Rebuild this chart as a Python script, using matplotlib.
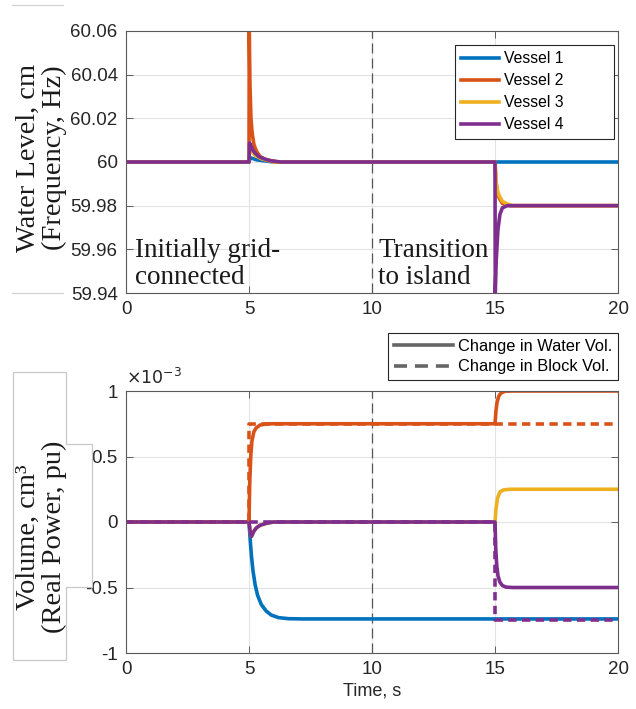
import matplotlib
matplotlib.use('Agg')
import matplotlib.pyplot as plt
from matplotlib.lines import Line2D
from matplotlib.patches import Polygon

plt.rcParams['axes.unicode_minus'] = False
SANS = 'Liberation Sans'
SERIF = 'Liberation Serif'

# ---------------- data ----------------
vessel_names = ['Vessel 1', 'Vessel 2', 'Vessel 3', 'Vessel 4']
x_ticks = [0, 5, 10, 15, 20]
freq_ticks = [59.94, 59.96, 59.98, 60.0, 60.02, 60.04, 60.06]
vol_ticks = [-1, -0.5, 0, 0.5, 1]

# frequency (water level) traces
f1_t = [0, 5, 5.05, 5.3, 6.0, 20]
f1_v = [60, 60, 60.002, 60.001, 60.0, 60.0]

f2_t = [0, 5, 5.01, 5.04, 5.08, 5.13, 5.2, 5.3, 5.45, 5.7, 6.2,
        15, 15.03, 15.08, 15.15, 15.3, 15.6, 20]
f2_v = [60, 60, 60.06, 60.035, 60.02, 60.013, 60.008, 60.005, 60.0025, 60.001, 60.0,
        60.0, 59.993, 59.987, 59.984, 59.981, 59.98, 59.98]

f3_t = [0, 5, 5.02, 5.1, 5.25, 5.5, 6.0, 15, 15.05, 15.12, 15.2, 15.3, 15.45, 15.7, 20]
f3_v = [60, 60, 60.007, 60.005, 60.003, 60.0015, 60.0, 60.0, 59.99, 59.986, 59.984,
        59.982, 59.981, 59.98, 59.98]

f4_t = [0, 5, 5.02, 5.08, 5.15, 5.25, 5.4, 5.6, 5.9, 6.3,
        15, 15.01, 15.05, 15.12, 15.2, 15.3, 15.5, 20]
f4_v = [60, 60, 60.0087, 60.0075, 60.0055, 60.004, 60.0025, 60.0015, 60.0005, 60.0,
        60.0, 59.94, 59.955, 59.969, 59.976, 59.979, 59.98, 59.98]

# volume traces (x 1e-3)
w1_t = [0, 5, 5.05, 5.1, 5.16, 5.25, 5.35, 5.5, 5.7, 5.9, 6.2, 6.6, 7.2, 20]
w1_v = [0, 0, -0.14, -0.26, -0.37, -0.48, -0.56, -0.63, -0.68, -0.71, -0.73, -0.738, -0.74, -0.74]

w2_t = [0, 5, 5.03, 5.07, 5.12, 5.2, 5.3, 5.45, 5.7, 6.0,
        15, 15.04, 15.08, 15.15, 15.25, 15.4, 15.7, 20]
w2_v = [0, 0, 0.3, 0.5, 0.62, 0.69, 0.72, 0.74, 0.748, 0.75,
        0.75, 0.85, 0.91, 0.96, 0.985, 0.998, 1.0, 1.0]

w3_t = [0, 5, 5.05, 5.1, 5.2, 5.3, 5.45, 5.7, 6.0,
        15, 15.04, 15.1, 15.2, 15.35, 15.6, 20]
w3_v = [0, 0, -0.08, -0.11, -0.07, -0.045, -0.025, -0.01, 0.0,
        0, 0.1, 0.18, 0.23, 0.245, 0.25, 0.25]

w4_t = [0, 5, 5.05, 5.1, 5.2, 5.3, 5.45, 5.7, 6.0,
        15, 15.03, 15.07, 15.12, 15.2, 15.3, 15.45, 15.7, 20]
w4_v = [0, 0, -0.08, -0.11, -0.07, -0.045, -0.025, -0.01, 0.0,
        0.0, -0.2, -0.33, -0.41, -0.46, -0.485, -0.497, -0.5, -0.5]

# block volume steps (x 1e-3)
b2_t = [0, 5, 5, 20]
b2_v = [0, 0, 0.75, 0.75]
b4_t = [0, 15, 15, 20]
b4_v = [0, 0, -0.75, -0.75]

colors = ['#0072BD', '#D95319', '#EDB120', '#7E2F8E']
LW = 2.6
DASH = (2.3, 1.5)

fig = plt.figure(figsize=(6.36, 7.09), dpi=100)
W, H = 636, 709


def ax_rect(l, t, r, b):
    return [l / W, 1 - b / H, (r - l) / W, (b - t) / H]


ax1 = fig.add_axes(ax_rect(126, 31, 618, 293))
ax2 = fig.add_axes(ax_rect(126, 391, 618, 653))


def style(ax):
    ax.set_xlim(0, 20)
    ax.set_xticks(x_ticks)
    ax.grid(True, color='#e3e3e3', lw=0.8)
    ax.set_axisbelow(True)
    for s in ax.spines.values():
        s.set_color('#5a5a5a')
        s.set_linewidth(0.8)
    ax.tick_params(direction='in', top=True, right=True, length=5, width=0.7,
                   color='#5a5a5a', labelsize=13.5, labelcolor='#262626', pad=6)
    for lab in ax.get_xticklabels() + ax.get_yticklabels():
        lab.set_fontfamily(SANS)
    ax.axvline(10, color='#555555', lw=0.9, dashes=(8, 4), zorder=1.5)


# ---- top ----
for (t, v), c, n in zip([(f1_t, f1_v), (f2_t, f2_v), (f3_t, f3_v), (f4_t, f4_v)],
                        colors, vessel_names):
    ax1.plot(t, v, color=c, lw=LW, label=n, solid_joinstyle='round')
ax1.set_ylim(59.94, 60.06)
ax1.set_yticks(freq_ticks)
ax1.set_yticklabels(['%g' % v for v in freq_ticks])
style(ax1)
lx0 = (455 - 126) / 492
ly1 = (293 - 45) / 262
leg1 = ax1.legend(loc='upper left', bbox_to_anchor=(lx0, ly1 - 0.34, 0.323, 0.34),
                  mode='expand', borderaxespad=0,
                  prop={'family': SANS, 'size': 11.3}, fancybox=False,
                  edgecolor='#262626', framealpha=1, handlelength=2.4,
                  labelspacing=0.45, borderpad=0.4, handletextpad=0.3)
leg1.get_frame().set_linewidth(0.8)
ax1.text(0.35, 59.9415, 'Initially grid-\nconnected', family=SERIF, fontsize=19.5,
         ha='left', va='bottom', linespacing=1.1, color='#1a1a1a')
ax1.text(10.25, 59.9415, 'Transition\nto island', family=SERIF, fontsize=19.5,
         ha='left', va='bottom', linespacing=1.1, color='#1a1a1a')

# ---- bottom ----
for (t, v), c in zip([(w1_t, w1_v), (w2_t, w2_v), (w3_t, w3_v), (w4_t, w4_v)], colors):
    ax2.plot(t, v, color=c, lw=LW)
ax2.plot(b2_t, b2_v, color=colors[1], lw=LW, dashes=DASH)
ax2.plot(b4_t, b4_v, color=colors[3], lw=LW, dashes=DASH)
ax2.set_ylim(-1, 1)
ax2.set_yticks(vol_ticks)
ax2.set_yticklabels(['%g' % v for v in vol_ticks])
style(ax2)
ax2.set_xlabel('Time, s', family=SANS, fontsize=13, color='#262626', labelpad=3)
ax2.text(0.0, 1.012, r'$\times10^{-3}$', transform=ax2.transAxes, fontsize=12.5,
         ha='left', va='bottom', color='#262626')

handles = [Line2D([], [], color='#666666', lw=LW),
           Line2D([], [], color='#666666', lw=LW, dashes=(3.6, 2.2))]
leg2 = fig.legend(handles, ['Change in Water Vol.', 'Change in Block Vol.'],
                  loc='upper right', bbox_to_anchor=(618 / W, 1 - 333 / H),
                  bbox_transform=fig.transFigure, borderaxespad=0,
                  prop={'family': SANS, 'size': 11.8}, fancybox=False,
                  edgecolor='#262626', framealpha=1, handlelength=3.6,
                  labelspacing=0.35, borderpad=0.35, handletextpad=0.3)
leg2.get_frame().set_linewidth(0.8)

# ---- y labels with their boxes ----
fig.text(41 / W, 1 - 158 / H, 'Water Level, cm\n(Frequency, Hz)', rotation=90,
         family=SERIF, fontsize=20.5, ha='center', va='center', multialignment='center',
         linespacing=1.05, color='#1a1a1a')
fig.text(41 / W, 1 - 537 / H, 'Volume, cm³\n(Real Power, pu)', rotation=90,
         family=SERIF, fontsize=20.5, ha='center', va='center', multialignment='center',
         linespacing=1.05, color='#1a1a1a')

for yy in (5, 293):
    fig.add_artist(Line2D([12 / W, 63 / W], [1 - yy / H, 1 - yy / H],
                          transform=fig.transFigure, color='#d4d4d4', lw=0.9))
box_px = [(13, 372), (66, 372), (66, 444), (92, 444), (92, 587), (66, 587),
          (66, 660), (13, 660)]
fig.add_artist(Polygon([(x / W, 1 - y / H) for x, y in box_px], closed=True,
                       transform=fig.transFigure, facecolor='none',
                       edgecolor='#c8c8c8', lw=0.9))

fig.savefig('out.png', dpi=100)
